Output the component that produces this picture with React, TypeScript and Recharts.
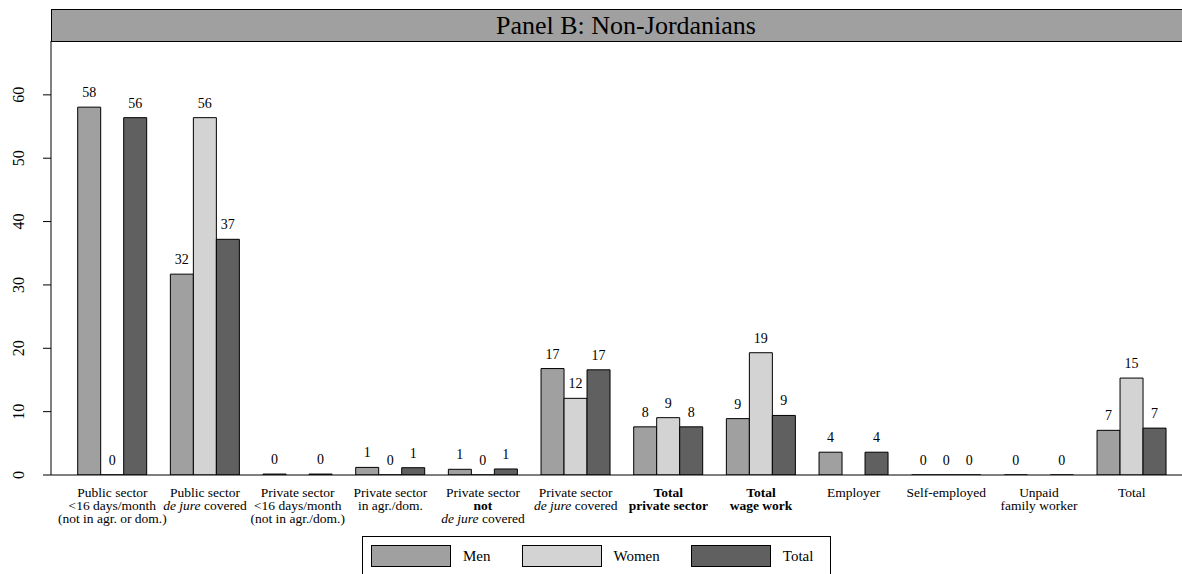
import React from "react";
import { BarChart, Bar, XAxis, YAxis, LabelList } from "recharts";

// Category labels, one entry per line; **bold** and _italic_ marks are styled in the tick
const categoryLines: string[][] = [
  ["Public sector", "<16 days/month", "(not in agr. or dom.)"],
  ["Public sector", "_de jure_ covered"],
  ["Private sector", "<16 days/month", "(not in agr./dom.)"],
  ["Private sector", "in agr./dom."],
  ["Private sector", "**not**", "_de jure_ covered"],
  ["Private sector", "_de jure_ covered"],
  ["**Total**", "**private sector**"],
  ["**Total**", "**wage work**"],
  ["Employer"],
  ["Self-employed"],
  ["Unpaid", "family worker"],
  ["Total"],
];

const men: (number | null)[] = [58.06, 31.7, 0.15, 1.2, 0.9, 16.8, 7.6, 8.9, 3.6, 0, 0, 7.05];
const women: (number | null)[] = [0, 56.4, null, 0, 0, 12.1, 9.05, 19.3, null, 0, null, 15.3];
const total: (number | null)[] = [56.4, 37.2, 0.15, 1.15, 0.95, 16.6, 7.6, 9.4, 3.6, 0, 0, 7.4];

const yTicks = [0, 10, 20, 30, 40, 50, 60];

const FONT = "'Liberation Serif', 'Times New Roman', serif";
const COLORS = { men: "#a0a0a0", women: "#d3d3d3", total: "#606060" };

const categories = categoryLines.map((lines) => lines.join(" ").replace(/[*_]/g, ""));

const data = categories.map((label, i) => ({
  label,
  men: men[i],
  women: women[i],
  total: total[i],
}));

function splitMarks(line: string) {
  return line
    .split(/(\*\*[^*]+\*\*|_[^_]+_)/)
    .filter((s) => s.length > 0)
    .map((s) => {
      if (s.startsWith("**")) return { text: s.slice(2, -2), bold: true, italic: false };
      if (s.startsWith("_")) return { text: s.slice(1, -1), bold: false, italic: true };
      return { text: s, bold: false, italic: false };
    });
}

function CategoryTick(props: any) {
  const { x, y, payload } = props;
  const lines = categoryLines[categories.indexOf(payload.value)] || [];
  return (
    <text x={x} y={y} textAnchor="middle" fontFamily={FONT} fontSize={13.5} fill="#000">
      {lines.map((line, i) => (
        <tspan key={i} x={x} y={y + 21.7 + i * 13.3}>
          {splitMarks(line).map((seg, j) => (
            <tspan
              key={j}
              fontWeight={seg.bold ? "bold" : "normal"}
              fontStyle={seg.italic ? "italic" : "normal"}
            >
              {seg.text}
            </tspan>
          ))}
        </tspan>
      ))}
    </text>
  );
}

function ValueTick(props: any) {
  const { y, payload } = props;
  return (
    <text
      x={16}
      y={y}
      transform={`rotate(-90, 16, ${y})`}
      textAnchor="middle"
      fontFamily={FONT}
      fontSize={16}
      fill="#000"
    >
      {payload.value}
    </text>
  );
}

const renderValue = (props: any) => {
  const { x, y, width, value } = props;
  if (value === null || value === undefined) return null;
  return (
    <text
      x={Number(x) + Number(width) / 2}
      y={Number(y) - 10}
      textAnchor="middle"
      fontFamily={FONT}
      fontSize={14}
      fill="#000"
    >
      {Math.round(Number(value))}
    </text>
  );
};

// zero-valued bars get a hair-thin rect so their "0" label is still placed
const zeroPoint = (v: any) => (v === 0 ? 0.01 : 0);

const legendItems = [
  { name: "Men", color: COLORS.men },
  { name: "Women", color: COLORS.women },
  { name: "Total", color: COLORS.total },
];

export default function App() {
  return (
    <div
      style={{
        position: "absolute",
        left: 8,
        top: 8,
        width: 1174,
        height: 566,
        overflow: "hidden",
        fontFamily: FONT,
      }}
    >
      <div
        style={{
          position: "absolute",
          left: 43,
          top: 1,
          width: 1131,
          height: 33,
          boxSizing: "border-box",
          border: "1px solid #000",
          borderRight: "none",
          background: "#a0a0a0",
          paddingLeft: 18,
          textAlign: "center",
          fontSize: 26,
          lineHeight: "31px",
          color: "#000",
        }}
      >
        Panel B: Non-Jordanians
      </div>

      <BarChart
        width={1174}
        height={566}
        data={data}
        margin={{ top: 33, right: 0, bottom: 0, left: 0 }}
        barCategoryGap={11.7}
        barGap={0}
      >
        <XAxis
          dataKey="label"
          height={99}
          interval={0}
          tickSize={0}
          tickMargin={0}
          tickLine={false}
          axisLine={{ stroke: "#000", strokeWidth: 1 }}
          padding={{ left: 15, right: 4 }}
          tick={(p: any) => <CategoryTick {...p} />}
        />
        <YAxis
          width={43}
          domain={[0, 68.5]}
          ticks={yTicks}
          allowDataOverflow
          tickSize={8}
          tickLine={{ stroke: "#000" }}
          axisLine={{ stroke: "#000", strokeWidth: 1 }}
          tick={(p: any) => <ValueTick {...p} />}
        />
        <Bar dataKey="men" fill={COLORS.men} stroke="#000" strokeWidth={1} minPointSize={zeroPoint} isAnimationActive={false}>
          <LabelList dataKey="men" content={renderValue} />
        </Bar>
        <Bar dataKey="women" fill={COLORS.women} stroke="#000" strokeWidth={1} minPointSize={zeroPoint} isAnimationActive={false}>
          <LabelList dataKey="women" content={renderValue} />
        </Bar>
        <Bar dataKey="total" fill={COLORS.total} stroke="#000" strokeWidth={1} minPointSize={zeroPoint} isAnimationActive={false}>
          <LabelList dataKey="total" content={renderValue} />
        </Bar>
      </BarChart>

      <div
        style={{
          position: "absolute",
          left: 354,
          top: 528,
          width: 469,
          height: 42,
          boxSizing: "border-box",
          border: "1px solid #000",
          padding: "8px 0 0 8px",
          display: "flex",
          alignItems: "flex-start",
          fontSize: 15,
          color: "#000",
        }}
      >
        {legendItems.map((item, i) => (
          <div key={item.name} style={{ display: "flex", alignItems: "center", marginRight: i < 2 ? 31 : 0 }}>
            <div
              style={{
                width: 80,
                height: 22,
                boxSizing: "border-box",
                border: "1px solid #000",
                background: item.color,
                marginRight: 12,
              }}
            />
            <span style={{ lineHeight: "22px" }}>{item.name}</span>
          </div>
        ))}
      </div>
    </div>
  );
}
